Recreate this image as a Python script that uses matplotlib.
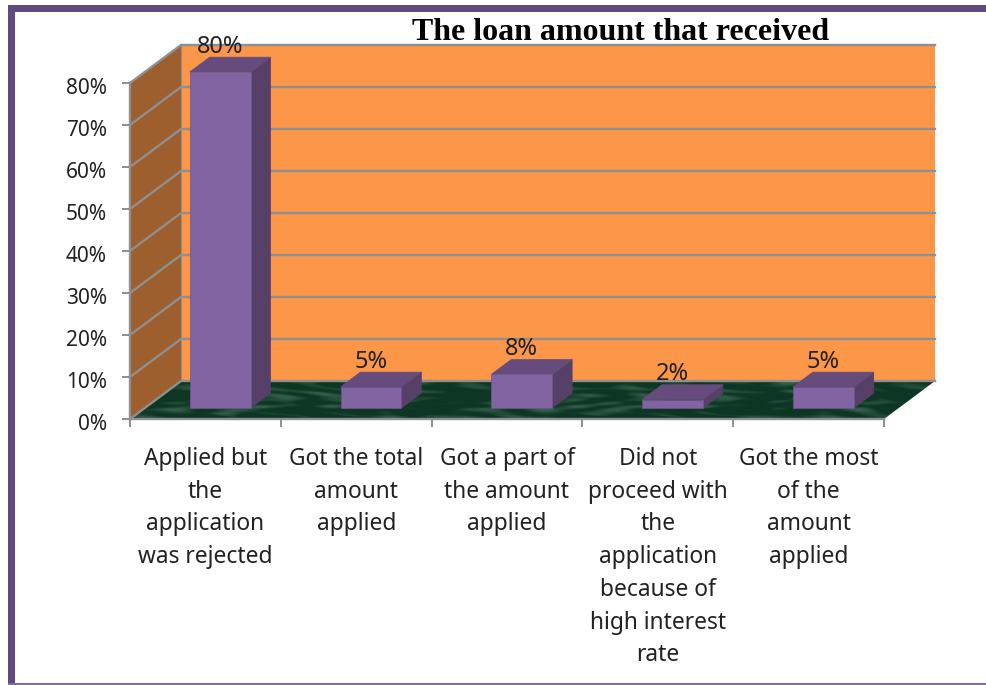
import numpy as np
import matplotlib
matplotlib.use("Agg")
import matplotlib.pyplot as plt
from matplotlib.patches import Polygon, Rectangle
from matplotlib.transforms import ScaledTranslation

plt.rcParams["font.family"] = ["Noto Sans", "DejaVu Sans"]

categories = [
    "Applied but\nthe\napplication\nwas rejected",
    "Got the total\namount\napplied",
    "Got a part of\nthe amount\napplied",
    "Did not\nproceed with\nthe\napplication\nbecause of\nhigh interest\nrate",
    "Got the most\nof the\namount\napplied",
]
values = [80, 5, 8, 2, 5]
y_ticks = [0, 10, 20, 30, 40, 50, 60, 70, 80]

WIDTH, HEIGHT = 987, 685
frame_col = "#5F4B7F"
grid_col = "#8F8F8F"

# depth of the fake 3d box, in data units
depth_x = 51 / 150.8
depth_y = 38 / 4.2
# bars sit part of the way into the box
bar_w = 0.404
bar_front = 0.29
bar_back = 0.68

fig = plt.figure(figsize=(WIDTH / 100, HEIGHT / 100), dpi=100)

# purple frame round the picture
fig.patches.append(Rectangle((8 / WIDTH, 1 - 12 / HEIGHT), 1, 7 / HEIGHT, transform=fig.transFigure, color=frame_col, lw=0))
fig.patches.append(Rectangle((8 / WIDTH, 0), 7 / WIDTH, 1 - 5 / HEIGHT, transform=fig.transFigure, color=frame_col, lw=0))
fig.patches.append(Rectangle((8 / WIDTH, 0), 1, 2 / HEIGHT, transform=fig.transFigure, color="#7F6C9C", lw=0))

ax = fig.add_axes([130 / WIDTH, 1 - 419 / HEIGHT, 754 / WIDTH, 336 / HEIGHT])
n = len(values)

# back wall and side wall
ax.add_patch(Polygon([(depth_x, depth_y), (n + depth_x, depth_y), (n + depth_x, 80 + depth_y), (depth_x, 80 + depth_y)],
                     fc="#FC9648", ec="none", clip_on=False, zorder=1))
ax.add_patch(Polygon([(0, 0), (depth_x, depth_y), (depth_x, 80 + depth_y), (0, 80)],
                     fc="#9C5F2D", ec="none", clip_on=False, zorder=1))

# marble floor
floor = Polygon([(0, 0), (n, 0), (n + depth_x, depth_y), (depth_x, depth_y)],
                fc="none", ec="none", transform=ax.transData)
ax.add_patch(floor)
xx, yy = np.meshgrid(np.linspace(0, 45, 800), np.linspace(0, 5, 40))
marble = (np.sin(xx * 0.9 + 3 * np.sin(yy * 1.7)) * np.sin(yy * 2.3 + 2 * np.sin(xx * 0.6))
          + 0.3 * np.sin(xx * 2.3 + yy * 4.3) * np.sin(xx * 0.5 - yy * 2.9))
marble = np.clip(marble, 0, 1.3) / 1.3
base = np.array([14, 54, 36]) / 255
light = np.array([56, 100, 78]) / 255
img = base + (light - base) * marble[..., None]
im = ax.imshow(img, extent=(0, n + depth_x, 0, depth_y), origin="lower", aspect="auto",
               zorder=1.5, interpolation="bilinear")
im.set_clip_box(fig.bbox)
im.set_clip_path(floor)

# grid on both walls
for v in y_ticks:
    ax.plot([0, depth_x, n + depth_x], [v, v + depth_y, v + depth_y], color=grid_col, lw=1.7,
            clip_on=False, zorder=2, solid_joinstyle="miter")
ax.plot([depth_x, depth_x], [depth_y, 80 + depth_y], color=grid_col, lw=0.8, clip_on=False, zorder=2)

# bars
for i, v in enumerate(values):
    x0 = i + 0.5 - bar_w / 2 + bar_front * depth_x
    x1 = x0 + bar_w
    y0 = bar_front * depth_y
    y1 = v + y0
    dx = (bar_back - bar_front) * depth_x
    dy = (bar_back - bar_front) * depth_y
    ax.add_patch(Polygon([(x1, y0), (x1 + dx, y0 + dy), (x1 + dx, y1 + dy), (x1, y1)],
                         fc="#574068", ec="#574068", lw=0.5, clip_on=False, zorder=3))
    ax.add_patch(Polygon([(x0, y1), (x1, y1), (x1 + dx, y1 + dy), (x0 + dx, y1 + dy)],
                         fc="#664C7C", ec="#664C7C", lw=0.5, clip_on=False, zorder=3))
    ax.add_patch(Rectangle((x0, y0), bar_w, v, fc="#8264A2", ec="#6F5590", lw=0.5, clip_on=False, zorder=3))
    ax.annotate(f"{v}%", ((x0 + x1) / 2, y1 + dy), xytext=(0, -1), textcoords="offset points",
                ha="center", va="bottom", fontsize=17, color="#222222", zorder=4, annotation_clip=False)

ax.set_xlim(0, n)
ax.set_ylim(0, 80)
ax.patch.set_visible(False)
for side in ["top", "right"]:
    ax.spines[side].set_visible(False)
for side in ["left", "bottom"]:
    ax.spines[side].set_color(grid_col)
    ax.spines[side].set_linewidth(1.7)
    ax.spines[side].set_zorder(2.5)

ax.set_yticks(y_ticks)
ax.set_yticklabels([f"{v}%" for v in y_ticks], fontsize=15, color="#222222")
ax.tick_params(axis="y", length=6, width=1.4, color=grid_col, pad=10.5)
for lab in ax.get_yticklabels():
    lab.set_transform(lab.get_transform() + ScaledTranslation(0, -2 / 72, fig.dpi_scale_trans))
ax.set_xticks(range(n + 1))
ax.set_xticklabels([])
ax.tick_params(axis="x", which="major", length=6, width=1.4, color=grid_col)
ax.set_xticks(np.arange(n) + 0.5, minor=True)
ax.set_xticklabels(categories, minor=True, fontsize=16.4, color="#222222", linespacing=1.488)
ax.tick_params(axis="x", which="minor", length=0, pad=20)

fig.text(621 / WIDTH, 1 - 32 / HEIGHT, "The loan amount that received", family="Liberation Serif",
         weight="bold", fontsize=23, ha="center", va="center", color="black", zorder=10)

fig.savefig("out.png", dpi=100)
